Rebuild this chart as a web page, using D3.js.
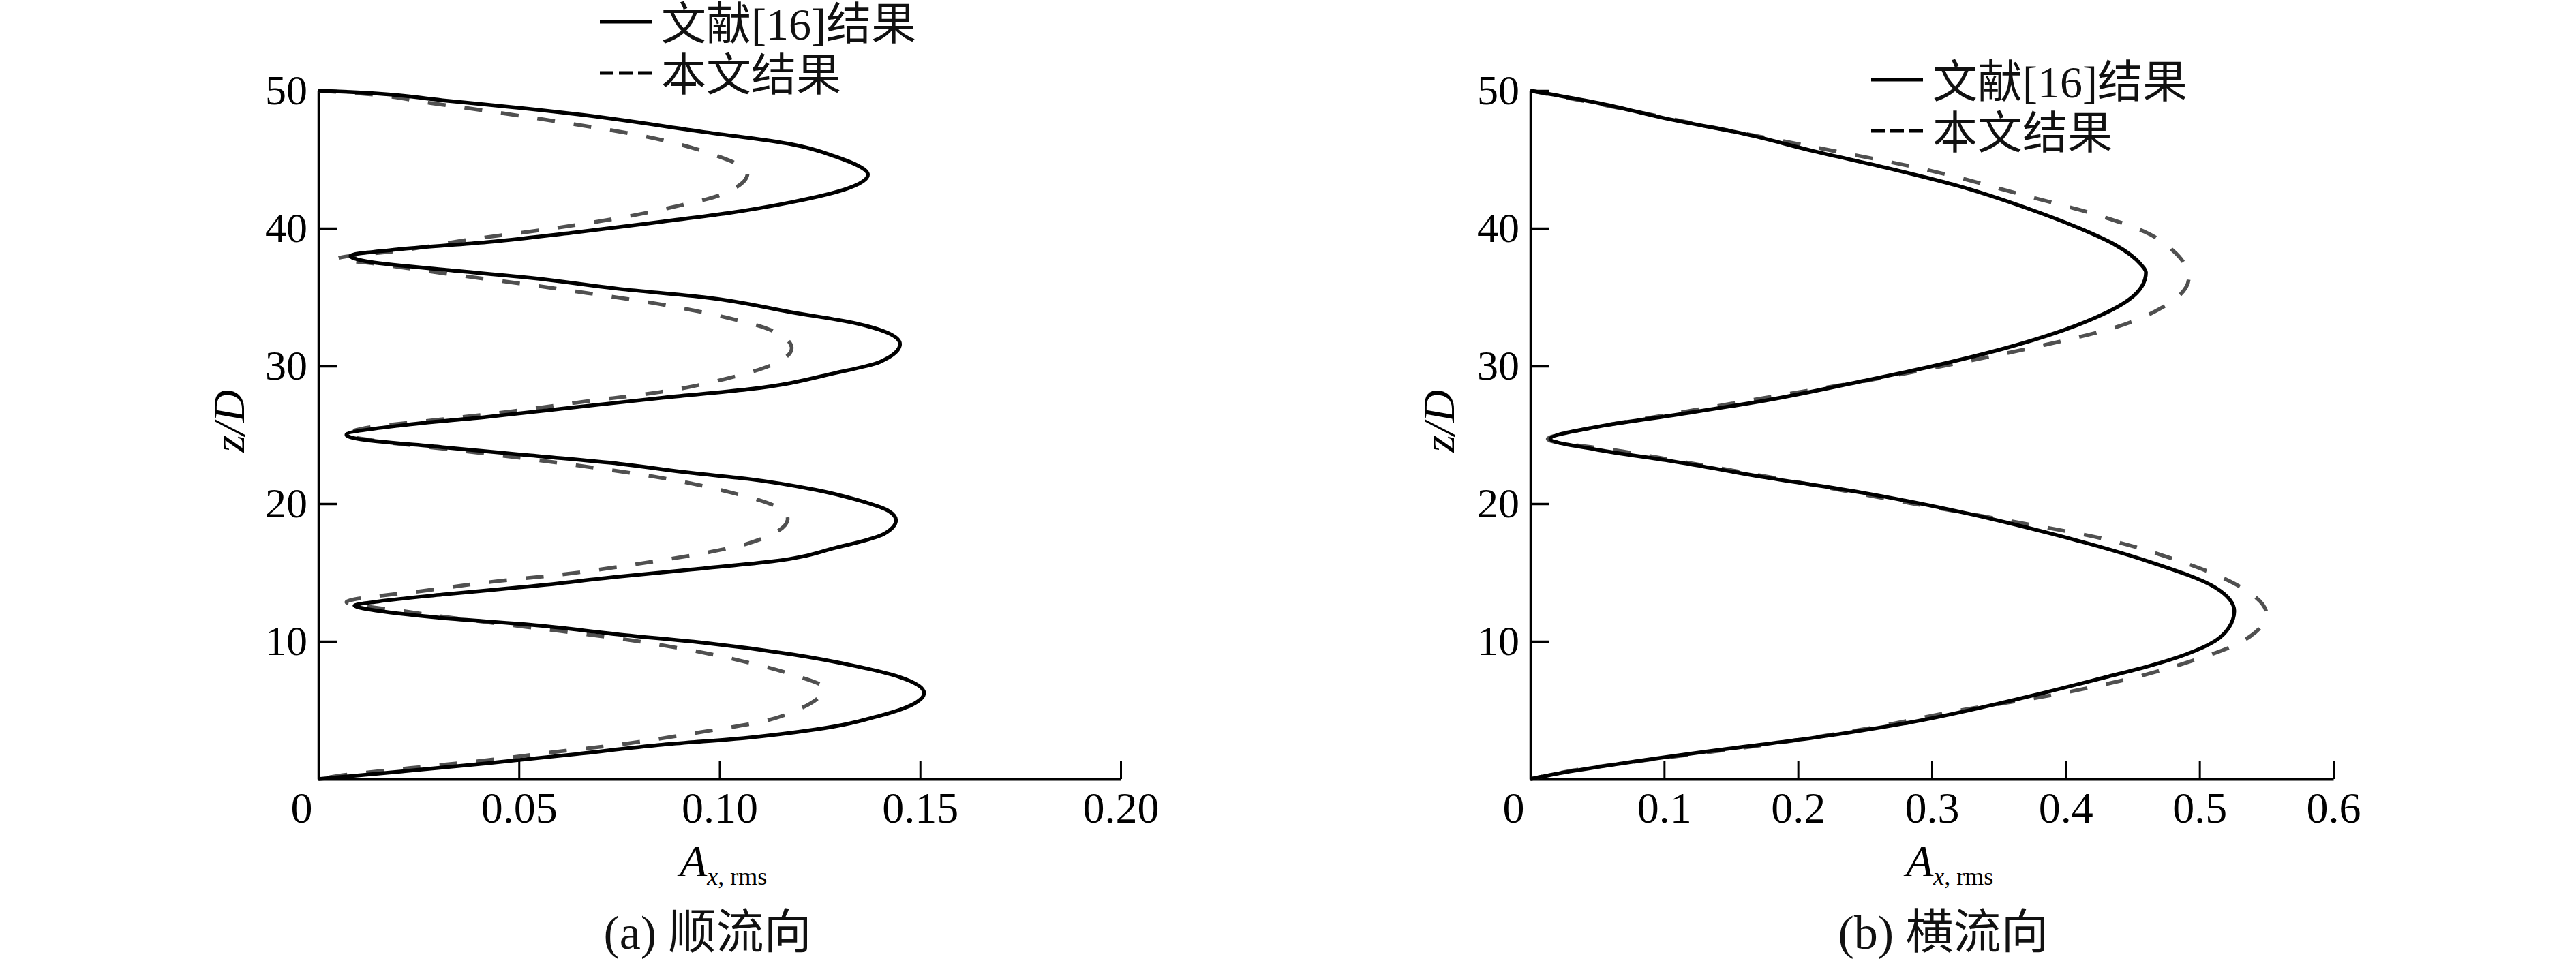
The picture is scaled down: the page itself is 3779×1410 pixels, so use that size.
<!DOCTYPE html>
<html>
<head>
<meta charset="utf-8">
<script src="https://cdn.jsdelivr.net/npm/d3@7"></script>
<style>
	body { margin: 0; background: #fff; }
	svg { display: block; font-family: "Liberation Serif", "Noto Sans CJK SC", serif; }
</style>
</head>
<body>
<div id="chart"></div>
<script>
// legend + captions
const seriesNames = ["文献[16]结果", "本文结果"];
const captions = ["(a) 顺流向", "(b) 横流向"];

// tick values / labels
const zTicks = [10, 20, 30, 40, 50];
const xTicksA = [0, 0.05, 0.1, 0.15, 0.2];
const xTickLabelsA = ["0", "0.05", "0.10", "0.15", "0.20"];
const xTicksB = [0, 0.1, 0.2, 0.3, 0.4, 0.5, 0.6];
const xTickLabelsB = ["0", "0.1", "0.2", "0.3", "0.4", "0.5", "0.6"];

// (a) in-line, reference [16] (solid)
const zRefA = [50, 49.9, 49.3, 48.3, 47.0, 46.1, 45.2, 43.9, 42.9, 41.9, 41.1, 40.5, 39.7, 39.0, 38.5, 38.0, 37.6, 37.0, 36.4, 35.6, 35.0, 33.9, 33.1, 32.4, 31.6, 30.3, 29.5, 28.3, 27.7, 27.0, 26.3, 25.7, 25.0, 24.7, 24.1, 23.5, 22.9, 22.3, 21.8, 21.0, 20.3, 19.5, 18.8, 17.8, 16.8, 15.8, 15.3, 14.7, 14.0, 13.4, 12.9, 12.6, 12.3, 11.7, 11.2, 10.5, 9.9, 9.06, 8.2, 7.4, 6.25, 5.4, 4.6, 3.6, 3.0, 2.5, 1.8, 1.14, 0.56, 0];
const aRefA = [0, 0.008, 0.031, 0.064, 0.096, 0.118, 0.129, 0.137, 0.132, 0.118, 0.102, 0.086, 0.064, 0.042, 0.021, 0.008, 0.012, 0.031, 0.053, 0.075, 0.096, 0.118, 0.134, 0.142, 0.145, 0.140, 0.129, 0.107, 0.086, 0.064, 0.042, 0.021, 0.007, 0.010, 0.031, 0.053, 0.075, 0.091, 0.107, 0.124, 0.134, 0.142, 0.144, 0.141, 0.129, 0.113, 0.096, 0.075, 0.053, 0.031, 0.015, 0.009, 0.013, 0.031, 0.053, 0.075, 0.096, 0.118, 0.134, 0.145, 0.151, 0.148, 0.140, 0.124, 0.107, 0.086, 0.064, 0.042, 0.021, 0];

// (a) in-line, this paper (dashed)
const zOurA = [50, 49.8, 49.1, 48.4, 47.6, 46.7, 45.4, 44.0, 42.4, 41.65, 40.7, 39.85, 39.2, 38.4, 37.8, 37.4, 36.7, 36.0, 35.3, 34.5, 33.5, 32.7, 31.3, 29.85, 29.1, 28.1, 27.4, 26.7, 26.1, 25.6, 25.0, 24.5, 23.9, 23.3, 22.6, 21.85, 20.8, 19.8, 18.9, 17.1, 16.4, 15.6, 14.9, 14.35, 13.7, 12.85, 12.2, 11.5, 10.9, 10.2, 9.4, 8.4, 7.6, 6.6, 5.1, 4.2, 3.3, 2.54, 1.97, 1.3, 0.8, 0.24, 0];
const aOurA = [0, 0.010, 0.028, 0.045, 0.063, 0.081, 0.098, 0.107, 0.100, 0.090, 0.074, 0.055, 0.038, 0.021, 0.005, 0.015, 0.032, 0.050, 0.067, 0.085, 0.102, 0.112, 0.118, 0.111, 0.102, 0.085, 0.066, 0.048, 0.030, 0.014, 0.007, 0.016, 0.034, 0.051, 0.069, 0.086, 0.103, 0.114, 0.117, 0.107, 0.096, 0.079, 0.062, 0.044, 0.027, 0.007, 0.021, 0.039, 0.056, 0.075, 0.092, 0.108, 0.118, 0.126, 0.120, 0.111, 0.093, 0.076, 0.059, 0.040, 0.023, 0.005, 0];

// (b) cross-flow, reference [16] (solid)
const zRefB = [50, 49.1, 47.9, 46.9, 45.6, 44.4, 43.1, 41.4, 40.1, 38.8, 37.4, 36.8, 35.8, 34.8, 33.5, 31.3, 30.0, 28.9, 27.5, 26.4, 25.6, 24.7, 23.9, 23.1, 21.9, 20.8, 19.45, 17.8, 15.8, 13.9, 12.2, 11.0, 10.05, 9.06, 8.2, 7.4, 5.6, 4.1, 3.0, 2.1, 1.14, 0.3, 0];
const aRefB = [0, 0.051, 0.105, 0.158, 0.212, 0.266, 0.319, 0.373, 0.408, 0.437, 0.456, 0.460, 0.457, 0.447, 0.422, 0.355, 0.301, 0.248, 0.176, 0.105, 0.051, 0.015, 0.051, 0.105, 0.176, 0.248, 0.319, 0.390, 0.462, 0.512, 0.526, 0.522, 0.512, 0.490, 0.462, 0.430, 0.355, 0.283, 0.212, 0.140, 0.069, 0.015, 0];

// (b) cross-flow, this paper (dashed)
const zOurB = [50, 48.9, 47.4, 45.9, 44.3, 42.4, 40.9, 39.75, 38.4, 36.4, 34.3, 32.8, 31.5, 30.2, 29.0, 27.7, 26.5, 25.25, 24.7, 23.8, 22.6, 21.35, 20.05, 18.8, 17.5, 16.0, 14.2, 12.0, 9.9, 8.7, 7.2, 6.1, 4.95, 3.6, 2.5, 1.6, 0.64, 0];
const aOurB = [0, 0.058, 0.133, 0.212, 0.294, 0.369, 0.426, 0.459, 0.480, 0.492, 0.473, 0.437, 0.383, 0.319, 0.255, 0.176, 0.105, 0.033, 0.013, 0.069, 0.140, 0.212, 0.283, 0.355, 0.426, 0.480, 0.526, 0.550, 0.530, 0.498, 0.444, 0.390, 0.319, 0.248, 0.176, 0.105, 0.033, 0];

const width = 3779;
const height = 1410;

const svg = d3
	.select("#chart")
	.append("svg")
	.attr("width", width)
	.attr("height", height);

svg.append("rect").attr("width", width).attr("height", height).attr("fill", "#fff");

function drawPanel(p) {
	const x = d3.scaleLinear().domain(p.xDomain).range([p.left, p.right]);
	const y = d3.scaleLinear().domain([0, 50]).range([1143, 133]);
	const g = svg.append("g");

	// x axis, ticks point inward
	const xAxis = d3
		.axisBottom(x)
		.tickValues(p.xTicks)
		.tickFormat((d, i) => p.xLabels[i])
		.tickSize(-26)
		.tickSizeOuter(0)
		.tickPadding(19);

	const gx = g.append("g").attr("transform", `translate(0,${y(0)})`).call(xAxis);
	gx.select(".domain").attr("stroke", "#000").attr("stroke-width", 4);
	gx.selectAll(".tick line").attr("stroke", "#000").attr("stroke-width", 3);
	gx.selectAll(".tick text")
		.style("font-family", '"Liberation Serif", serif')
		.style("font-size", "64px")
		.attr("fill", "#000");
	// the "0" label sits a bit left of the corner
	gx.selectAll(".tick text").filter((d) => d === 0).attr("x", -25);

	// y axis
	const yAxis = d3
		.axisLeft(y)
		.tickValues(zTicks)
		.tickSize(-28)
		.tickSizeOuter(0)
		.tickPadding(16);

	const gy = g.append("g").attr("transform", `translate(${x(0)},0)`).call(yAxis);
	gy.select(".domain").attr("stroke", "#000").attr("stroke-width", 3.5);
	gy.selectAll(".tick line").attr("stroke", "#000").attr("stroke-width", 3.5);
	gy.selectAll(".tick text")
		.style("font-family", '"Liberation Serif", serif')
		.style("font-size", "62px")
		.attr("fill", "#000");

	const line = d3
		.line()
		.x((d) => x(d[1]))
		.y((d) => y(d[0]))
		.curve(d3.curveMonotoneY);

	// this paper, dashed grey
	g.append("path")
		.datum(d3.zip(p.zOur, p.aOur))
		.attr("d", line)
		.attr("fill", "none")
		.attr("stroke", "#505050")
		.attr("stroke-width", 5.5)
		.attr("stroke-dasharray", "26,28");

	// reference [16], solid black
	g.append("path")
		.datum(d3.zip(p.zRef, p.aRef))
		.attr("d", line)
		.attr("fill", "none")
		.attr("stroke", "#000")
		.attr("stroke-width", 5.5)
		.attr("stroke-linejoin", "round");

	// legend
	const lg = g.append("g").attr("transform", `translate(${p.legendX},${p.legendY})`);
	lg.append("line")
		.attr("x1", 0).attr("x2", 76)
		.attr("y1", 0).attr("y2", 0)
		.attr("stroke", "#000").attr("stroke-width", 5);
	lg.append("line")
		.attr("x1", 0).attr("x2", 76)
		.attr("y1", 75).attr("y2", 75)
		.attr("stroke", "#000").attr("stroke-width", 5)
		.attr("stroke-dasharray", "20,8");
	lg.selectAll("text.legend-label")
		.data(seriesNames)
		.enter()
		.append("text")
		.attr("class", "legend-label")
		.attr("x", 90)
		.attr("y", (d, i) => 26 + i * 75)
		.attr("font-size", 66)
		.attr("fill", "#111")
		.text((d) => d);

	// y label
	g.append("text")
		.attr("transform", `translate(${p.zLabelX},618) rotate(-90)`)
		.attr("text-anchor", "middle")
		.attr("font-size", 66)
		.attr("font-style", "italic")
		.text("z/D");

	// x label A_{x, rms}
	const ax = g.append("text").attr("x", p.aLabelX).attr("y", 1286).attr("font-size", 66);
	ax.append("tspan").attr("font-style", "italic").text("A");
	ax.append("tspan").attr("dy", 12).attr("font-size", 36).attr("font-style", "italic").text("x");
	ax.append("tspan").attr("font-size", 36).text(", rms");

	// caption
	g.append("text")
		.attr("x", p.captionX)
		.attr("y", 1392)
		.attr("text-anchor", "middle")
		.attr("font-size", 70)
		.attr("fill", "#111")
		.text(p.caption);
}

drawPanel({
	xDomain: [0, 0.2],
	left: 467,
	right: 1644,
	xTicks: xTicksA,
	xLabels: xTickLabelsA,
	zRef: zRefA,
	aRef: aRefA,
	zOur: zOurA,
	aOur: aOurA,
	legendX: 880,
	legendY: 32,
	zLabelX: 358,
	aLabelX: 997,
	captionX: 1038,
	caption: captions[0],
});

drawPanel({
	xDomain: [0, 0.6],
	left: 2245,
	right: 3423,
	xTicks: xTicksB,
	xLabels: xTickLabelsB,
	zRef: zRefB,
	aRef: aRefB,
	zOur: zOurB,
	aOur: aOurB,
	legendX: 2745,
	legendY: 117,
	zLabelX: 2133,
	aLabelX: 2796,
	captionX: 2851,
	caption: captions[1],
});
</script>
</body>
</html>
